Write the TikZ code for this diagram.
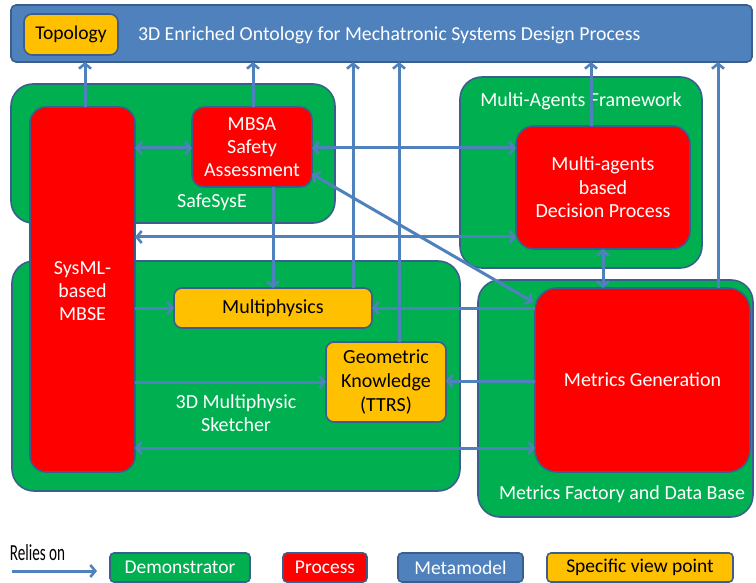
\documentclass[tikz,border=0pt]{standalone}
\usepackage{fontspec}
\setmainfont{Carlito}
\usetikzlibrary{arrows.meta}
\definecolor{dgreen}{HTML}{00B050}
\definecolor{dred}{HTML}{FF0000}
\definecolor{dyel}{HTML}{FFC000}
\definecolor{dblue}{HTML}{4F81BD}
\definecolor{dbord}{HTML}{3A5F8E}
\tikzset{
  every node/.style={inner sep=0pt, outer sep=0pt},
  base/.style={draw=dbord, line width=1.6pt, align=center},
  greenbox/.style={base, fill=dgreen, rounded corners=22pt},
  redbox/.style={base, fill=dred, rounded corners=16pt, text=white, font=\fontsize{20}{23}\selectfont},
  yelbox/.style={base, fill=dyel, rounded corners=8pt, text=black, font=\fontsize{20}{24}\selectfont},
  bluebox/.style={base, fill=dblue, rounded corners=5pt},
  glabel/.style={text=white, font=\fontsize{20}{23}\selectfont, align=center},
  legbox/.style={base, minimum height=29pt, rounded corners=4pt, font=\fontsize{19.5}{20}\selectfont},
  rel/.style={draw=dblue, line width=3pt, -{Straight Barb[length=5pt,width=12pt,line width=2.6pt]}},
  rel2/.style={draw=dblue, line width=3pt, {Straight Barb[length=5pt,width=12pt,line width=2.6pt]}-{Straight Barb[length=5pt,width=12pt,line width=2.6pt]}},
}
\begin{document}
\begin{tikzpicture}[x=1pt,y=-1pt]
\useasboundingbox (0,0) rectangle (756,583);
% metamodel bar
\node[bluebox, minimum width=741pt, minimum height=57pt] (meta) at (381.5,33.5) {};
\node[yelbox, minimum width=94pt, minimum height=41pt, font=\fontsize{19.5}{20}\selectfont] (topo) at (71,34.5) {Topology};
\node[anchor=west, text=white, font=\fontsize{19.8}{20}\selectfont] (title) at (138,35) {3D Enriched Ontology for Mechatronic Systems Design Process};
% green demonstrators
\node[greenbox, minimum width=324pt, minimum height=139pt] (safe) at (173,153.5) {};
\node[greenbox, minimum width=242pt, minimum height=191pt] (maf) at (581,172.5) {};
\node[greenbox, minimum width=448pt, minimum height=230pt] (sketch) at (236,376) {};
\node[greenbox, minimum width=275pt, minimum height=237pt] (mf) at (615.5,398.5) {};
\node[glabel] (safel) at (212,202) {SafeSysE};
\node[glabel] (mafl) at (581,101) {Multi-Agents Framework};
\node[glabel] (sketchl) at (236,413.5) {3D Multiphysic\\Sketcher};
\node[glabel] (mfl) at (622,494) {Metrics Factory and Data Base};
% processes
\node[redbox, minimum width=105pt, minimum height=365pt] (sysml) at (82.5,289.5) {};
\node[glabel] (sysmlt) at (82.5,291) {SysML-\\based\\MBSE};
\node[redbox, minimum width=120pt, minimum height=80pt, rounded corners=12pt] (mbsa) at (252,147) {MBSA\\Safety\\Assessment};
\node[redbox, minimum width=174pt, minimum height=123pt, rounded corners=18pt, font=\fontsize{20}{23.5}\selectfont] (mad) at (603,187.5) {Multi-agents\\based\\Decision Process};
\node[redbox, minimum width=215pt, minimum height=184pt, rounded corners=22pt] (mg) at (642.5,380) {Metrics Generation};
% specific view points
\node[yelbox, minimum width=198pt, minimum height=40pt] (mph) at (273,308) {Multiphysics};
\node[yelbox, minimum width=120pt, minimum height=80pt] (geo) at (386,382) {Geometric\\Knowledge\\(TTRS)};
% relies-on connectors
\draw[rel] (85,0 |- sysml.north) -- (85,0 |- meta.south);
\draw[rel] (253,0 |- mbsa.north) -- (253,0 |- meta.south);
\draw[rel] (353,0 |- mph.north) -- (353,0 |- meta.south);
\draw[rel] (399,0 |- geo.north) -- (399,0 |- meta.south);
\draw[rel] (591,0 |- mad.north) -- (591,0 |- meta.south);
\draw[rel] (718,0 |- mg.north) -- (718,0 |- meta.south);
\draw[rel2] (sysml.east |- 0,148) -- (mbsa.west |- 0,148);
\draw[rel2] (mbsa.east |- 0,148) -- (mad.west |- 0,148);
\draw[rel2] (mbsa.east |- 0,174) -- (533,302);
\draw[rel2] (sysml.east |- 0,237) -- (mad.west |- 0,237);
\draw[rel] (mph.north |- mbsa.south) -- (mph.north);
\draw[rel] (sysml.east |- mph.west) -- (mph.west);
\draw[rel] (mg.west |- mph.east) -- (mph.east);
\draw[rel2] (mad.south) -- (mad.south |- mg.north);
\draw[rel] (sysml.east |- geo.west) -- (geo.west);
\draw[rel] (mg.west |- 0,381) -- (geo.east |- 0,381);
\draw[rel2] (sysml.east |- 0,448) -- (mg.west |- 0,448);
% legend
\node[font=\fontsize{23}{24}\selectfont] (relt) at (37.5,553) {\scalebox{0.66}[1]{Relies on}};
\coordinate (rela) at (12,571);
\coordinate (relb) at (97,571);
\draw[rel] (rela) -- (relb);
\node[legbox, fill=dgreen, text=white, minimum width=140pt] (ldemo) at (180,567.5) {Demonstrator};
\node[legbox, fill=dred, text=white, minimum width=84pt] (lproc) at (325,567.5) {Process};
\node[legbox, fill=dblue, text=white, minimum width=125pt] (lmeta) at (460.5,567.5) {Metamodel};
\node[legbox, fill=dyel, text=black, minimum width=186pt] (lspec) at (640,567.5) {Specific view point};
\end{tikzpicture}
\end{document}
